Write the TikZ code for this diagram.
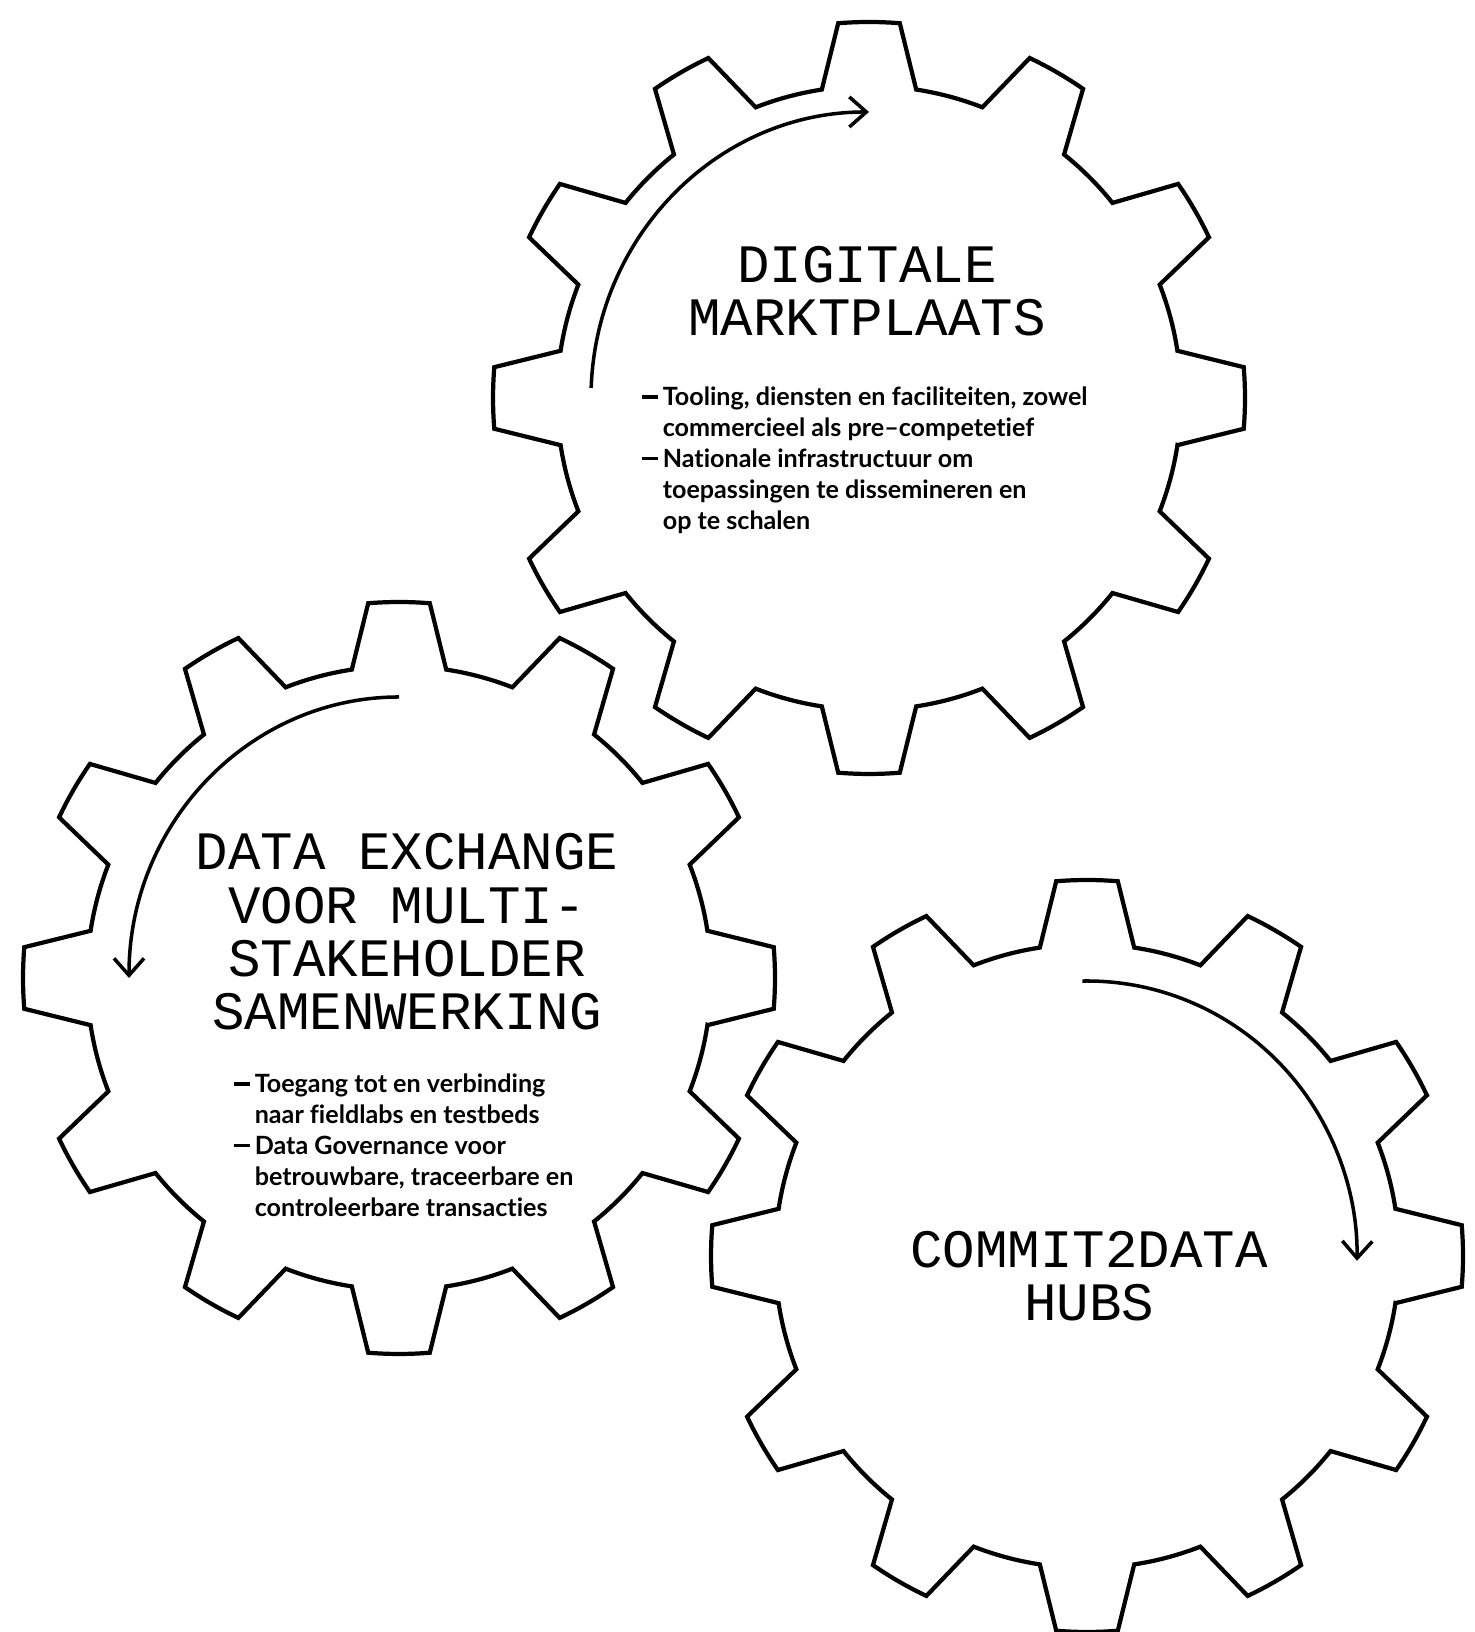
\documentclass[tikz,border=0pt]{standalone}
\usepackage{fontspec}
\setmainfont{Lato}[Ligatures={NoCommon}]
\newfontfamily\headfont{Liberation Mono}
\usepackage{xcolor}
\definecolor{inkblack}{HTML}{000000}
\usepackage{tikz}
\usetikzlibrary{arrows.meta}

% gear outline with 12 teeth round a named centre
\newcommand{\gearwheel}[1]{%
  \draw[gearline] ([shift={(#1)}]-8.7:3.12)
    \foreach \a in {0,30,...,330} {
      -- ([shift={(#1)}]\a-4.7:3.76)
      arc[start angle=\a-4.7, end angle=\a+4.7, radius=3.76]
      -- ([shift={(#1)}]\a+8.7:3.12)
      arc[start angle=\a+8.7, end angle=\a+21.3, radius=3.12]
    } -- cycle;}
% list dash
\newcommand{\listdash}{\rule[2.1pt]{4.6pt}{0.95pt}}

\begin{document}
\begin{tikzpicture}[
    gearline/.style={line width=1.2pt, color=inkblack, line join=miter},
    turn/.style={line width=1pt, color=inkblack, -{Straight Barb[length=1.7mm, width=3mm, line width=1pt]}},
    headtext/.style={font=\headfont\fontsize{15.4}{15.2}\selectfont, align=center, inner sep=0pt},
    bodytext/.style={font=\bfseries\fontsize{7.15}{8.8}\selectfont, inner sep=0pt, anchor=base west}
  ]
  \useasboundingbox (0,0) rectangle (14.74,16.32);

  % Gear centres
  \coordinate (dm) at (8.69,12.34);
  \coordinate (dx) at (3.99,6.54);
  \coordinate (hub) at (10.87,3.76);

  % Gears
  \gearwheel{dm}
  \gearwheel{dx}
  \gearwheel{hub}

  % Turning arrows
  \coordinate (dmturn) at ([shift={(dm)}]178:2.78 and 2.86);
  \draw[turn] (dmturn) arc[start angle=178, end angle=90, x radius=2.78, y radius=2.86];
  \coordinate (dxturn) at ([shift={(dx)}]90:2.70 and 2.81);
  \draw[turn] (dxturn) arc[start angle=90, end angle=180, x radius=2.70, y radius=2.81];
  \coordinate (hubturn) at ([shift={(hub)}]91:2.70 and 2.75);
  \draw[turn] (hubturn) arc[start angle=91, end angle=-1, x radius=2.70, y radius=2.75];

  % Digitale marktplaats
  \node[headtext] (dmtitle) at (8.67,13.41) {DIGITALE\\MARKTPLAATS};
  \node[bodytext] (dmlist) at (6.41,12.26) {\begin{tabular}[t]{@{}l@{\hspace{1.4pt}}l@{}}
    \listdash & Tooling, diensten en faciliteiten, zowel\\
       & commercieel als pre--competetief\\
    \listdash & Nationale infrastructuur om\\
       & toepassingen te dissemineren en\\
       & op te schalen
  \end{tabular}};

  % Data exchange
  \node[headtext] (dxtitle) at (4.07,7.00) {DATA EXCHANGE\\VOOR MULTI-\\STAKEHOLDER\\SAMENWERKING};
  \node[bodytext] (dxlist) at (2.33,5.39) {\begin{tabular}[t]{@{}l@{\hspace{1.4pt}}l@{}}
    \listdash & Toegang tot en verbinding\\
       & naar fieldlabs en testbeds\\
    \listdash & Data Governance voor\\
       & betrouwbare, traceerbare en\\
       & controleerbare transacties
  \end{tabular}};

  % Commit2data hubs
  \node[headtext] (hubtitle) at (10.89,3.56) {COMMIT2DATA\\HUBS};
\end{tikzpicture}
\end{document}
